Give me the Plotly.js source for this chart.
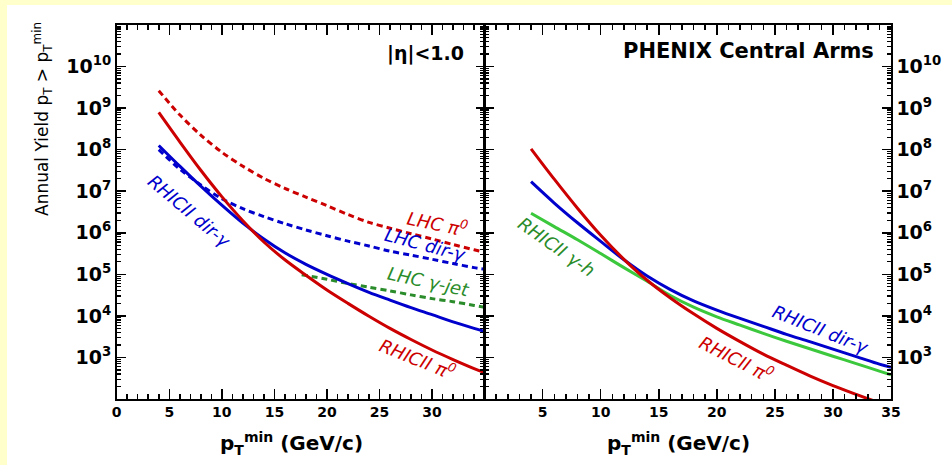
<!DOCTYPE html>
<html><head><meta charset="utf-8">
<script src="https://cdn.plot.ly/plotly-3.0.1.min.js"></script>
<style>html,body{margin:0;padding:0;background:#fff;overflow:hidden}</style>
</head><body><div id="chart" style="width:952px;height:465px"></div>
<script>
// ---- Left panel: |eta|<1.0 ----
const ptL = [4, 6, 8, 10, 12, 14, 16, 18, 20, 22, 24, 26, 28, 30, 32, 34, 35];
const yLhcPi0    = [2.63e9, 6.9e8, 2.24e8, 8.7e7, 4.0e7, 2.04e7, 1.17e7, 7.2e6, 4.5e6, 2.75e6, 1.78e6, 1.29e6, 9.5e5, 7.1e5, 5.2e5, 3.9e5, 3.4e5];
const yLhcDirG   = [1.0e8, 3.4e7, 1.41e7, 6.6e6, 3.8e6, 2.45e6, 1.66e6, 1.17e6, 8.5e5, 6.3e5, 4.8e5, 3.6e5, 2.9e5, 2.3e5, 1.82e5, 1.45e5, 1.32e5];
const yRhicDirGL = [1.26e8, 4.0e7, 1.32e7, 4.6e6, 1.7e6, 7.1e5, 3.3e5, 1.74e5, 1.0e5, 6.0e4, 3.7e4, 2.4e4, 1.58e4, 1.07e4, 7.2e3, 5.0e3, 4.2e3];
const yRhicPi0L  = [7.9e8, 1.55e8, 3.2e7, 7.4e6, 1.95e6, 6.0e5, 2.24e5, 9.5e4, 4.2e4, 2.0e4, 9.8e3, 5.0e3, 2.7e3, 1.51e3, 8.9e2, 5.4e2, 4.3e2];
const ptLhcGJet = [17.6, 20, 22, 24, 26, 28, 30, 32, 34, 35];
const yLhcGJet  = [9.8e4, 7.6e4, 6.0e4, 4.9e4, 4.0e4, 3.2e4, 2.6e4, 2.2e4, 1.78e4, 1.62e4];
// ---- Right panel: PHENIX Central Arms ----
const ptR = [4, 6, 8, 10, 12, 14, 16, 18, 20, 22, 24, 26, 28, 30, 32, 34, 35];
const yRhicPi0R  = [1.05e8, 1.95e7, 3.9e6, 8.7e5, 2.3e5, 7.2e4, 2.7e4, 1.12e4, 5.0e3, 2.4e3, 1.2e3, 6.5e2, 3.6e2, 2.1e2, 1.29e2, 81, 65];
const yRhicDirGR = [1.7e7, 5.2e6, 1.74e6, 6.2e5, 2.24e5, 9.1e4, 4.3e4, 2.3e4, 1.38e4, 8.7e3, 5.6e3, 3.6e3, 2.4e3, 1.58e3, 1.05e3, 6.9e2, 5.8e2];
const yRhicGhR   = [2.95e6, 1.41e6, 6.8e5, 3.16e5, 1.45e5, 6.8e4, 3.1e4, 1.62e4, 9.5e3, 6.0e3, 3.8e3, 2.45e3, 1.62e3, 1.07e3, 7.1e2, 4.7e2, 3.8e2];
// ---- Tick labels ----
const yTickVals = [1e3, 1e4, 1e5, 1e6, 1e7, 1e8, 1e9, 1e10];
const yTickText = ['10<sup>3</sup>', '10<sup>4</sup>', '10<sup>5</sup>', '10<sup>6</sup>', '10<sup>7</sup>', '10<sup>8</sup>', '10<sup>9</sup>', '10<sup>10</sup>'];
const xTickValsL = [0, 5, 10, 15, 20, 25, 30];
const xTickValsR = [5, 10, 15, 20, 25, 30, 35];

const RED = '#CC0000', BLUE = '#0000CC', DGREEN = '#2A8C2A', LGREEN = '#3CC83C';
const W = 952, H = 465;
const px = v => v / W, py = v => 1 - v / H;

// minor tick positions (log decades 10^2..10^11, linear every 1 GeV/c)
const yMinor = [];
for (let d = 2; d <= 10; d++) for (let m = 2; m <= 9; m++) yMinor.push(m * Math.pow(10, d));
const xMinor = [];
for (let i = 0; i <= 35; i++) if (i % 5 !== 0) xMinor.push(i);

function line(x, y, color, dash, xa, ya) {
  return {x: x, y: y, xaxis: xa, yaxis: ya, type: 'scatter', mode: 'lines',
    line: {color: color, width: 3, dash: dash || 'solid', shape: 'spline', smoothing: 0.9},
    hoverinfo: 'skip', showlegend: false};
}
const DASH = '6px,4px';
const traces = [
  line(ptL, yLhcPi0, RED, DASH, 'x', 'y'),
  line(ptL, yLhcDirG, BLUE, DASH, 'x', 'y'),
  line(ptLhcGJet, yLhcGJet, DGREEN, DASH, 'x', 'y'),
  line(ptL, yRhicDirGL, BLUE, null, 'x', 'y'),
  line(ptL, yRhicPi0L, RED, null, 'x', 'y'),
  line(ptR, yRhicGhR, LGREEN, null, 'x2', 'y2'),
  line(ptR, yRhicDirGR, BLUE, null, 'x2', 'y2'),
  line(ptR, yRhicPi0R, RED, null, 'x2', 'y2'),
  {x: [null], y: [null], xaxis: 'x3', yaxis: 'y3', type: 'scatter', mode: 'lines', showlegend: false, hoverinfo: 'skip'},
  {x: [null], y: [null], xaxis: 'x4', yaxis: 'y4', type: 'scatter', mode: 'lines', showlegend: false, hoverinfo: 'skip'}
];

const tickFontX = {family: 'DejaVu Sans', size: 14, weight: 'bold', color: '#000'};
const tickFontY = {family: 'DejaVu Sans', size: 19, weight: 'bold', color: '#000'};
const YDOM = [py(399), py(25)];
function xAxis(dom, tv, anchor) {
  return {domain: dom, anchor: anchor, range: [0, 35], showline: true, linecolor: '#000', linewidth: 1.6,
    mirror: 'allticks', ticks: 'inside', ticklen: 10, tickwidth: 1.5, tickcolor: '#000',
    tickmode: 'array', tickvals: tv, showgrid: false, zeroline: false, tickfont: tickFontX, fixedrange: true};
}
function yAxis(anchor, side) {
  return {domain: YDOM, anchor: anchor, side: side, type: 'log', range: [2, 11],
    showline: true, linecolor: '#000', linewidth: 1.6, mirror: 'allticks', ticks: 'inside', ticklen: 9,
    tickwidth: 1.5, tickcolor: '#000', tickmode: 'array', tickvals: yTickVals, ticktext: yTickText,
    showgrid: false, zeroline: false, tickfont: tickFontY, fixedrange: true};
}
function xMinorAxis(over, anchor, dom) {
  return {overlaying: over, anchor: anchor, domain: dom, range: [0, 35], showline: false, mirror: 'allticks',
    ticks: 'inside', ticklen: 5, tickwidth: 1.5, tickcolor: '#000', tickmode: 'array', tickvals: xMinor,
    showticklabels: false, showgrid: false, zeroline: false, fixedrange: true};
}
function yMinorAxis(over, anchor, side) {
  return {overlaying: over, anchor: anchor, side: side, domain: YDOM, type: 'log', range: [2, 11], showline: false,
    mirror: 'allticks', ticks: 'inside', ticklen: 4.5, tickwidth: 1.2, tickcolor: '#000', tickmode: 'array',
    tickvals: yMinor, showticklabels: false, showgrid: false, zeroline: false, fixedrange: true};
}

function lab(text, x, y, color, angle, size) {
  return {text: text, xref: 'paper', yref: 'paper', x: px(x), y: py(y), showarrow: false,
    xanchor: 'center', yanchor: 'middle', textangle: angle,
    font: {family: 'DejaVu Sans', size: size || 18, style: 'italic', color: color}};
}

const annotations = [
  {text: 'Annual Yield p<sub>T</sub> &gt; p<sub>T</sub><sup>min</sup>', xref: 'paper', yref: 'paper',
   x: px(43), y: py(119), showarrow: false, xanchor: 'center', yanchor: 'middle', textangle: -90,
   font: {family: 'DejaVu Sans', size: 17, color: '#000'}},
  {text: 'p<sub>T</sub><sup>min</sup> (GeV/c)', xref: 'paper', yref: 'paper', x: px(291), y: py(443),
   showarrow: false, xanchor: 'center', yanchor: 'middle',
   font: {family: 'DejaVu Sans', size: 20, weight: 'bold', color: '#000'}},
  {text: 'p<sub>T</sub><sup>min</sup> (GeV/c)', xref: 'paper', yref: 'paper', x: px(678), y: py(443),
   showarrow: false, xanchor: 'center', yanchor: 'middle',
   font: {family: 'DejaVu Sans', size: 20, weight: 'bold', color: '#000'}},
  {text: '|η|<1.0', xref: 'paper', yref: 'paper', x: px(425), y: py(54), showarrow: false,
   xanchor: 'center', yanchor: 'middle', font: {family: 'DejaVu Sans', size: 19, weight: 'bold', color: '#000'}},
  {text: 'PHENIX Central Arms', xref: 'paper', yref: 'paper', x: px(748), y: py(51), showarrow: false,
   xanchor: 'center', yanchor: 'middle', font: {family: 'DejaVu Sans', size: 21, weight: 'bold', color: '#000'}},
  lab('LHC π<sup>0</sup>', 437, 223, RED, 12),
  lab('LHC dir-γ', 425, 244, BLUE, 15),
  lab('LHC γ-jet', 428, 281, DGREEN, 12),
  lab('RHICII π<sup>0</sup>', 417, 358, RED, 22),
  lab('RHICII dir-γ', 190, 211, BLUE, 40),
  lab('RHICII γ-h', 556, 247, DGREEN, 35),
  lab('RHICII dir-γ', 821, 329, BLUE, 22),
  lab('RHICII π<sup>0</sup>', 736, 358, RED, 27)
];

const layout = {
  width: W, height: H, margin: {l: 0, r: 0, t: 0, b: 0},
  paper_bgcolor: '#FFFFCC', plot_bgcolor: '#FFFFFF', showlegend: false,
  xaxis: xAxis([px(116.7), px(484.6)], xTickValsL, 'y'),
  xaxis2: xAxis([px(484.6), px(891)], xTickValsR, 'y2'),
  yaxis: yAxis('x', 'left'),
  yaxis2: yAxis('x2', 'right'),
  xaxis3: xMinorAxis('x', 'y3', [px(116.7), px(484.6)]),
  yaxis3: yMinorAxis('y', 'x3', 'left'),
  xaxis4: xMinorAxis('x2', 'y4', [px(484.6), px(891)]),
  yaxis4: yMinorAxis('y2', 'x4', 'right'),
  shapes: [{type: 'rect', xref: 'paper', yref: 'paper', x0: px(7), x1: 1, y0: 0, y1: py(5),
    fillcolor: '#FFFFFF', line: {width: 0}, layer: 'below'}],
  annotations: annotations
};

Plotly.newPlot('chart', traces, layout, {staticPlot: true, displayModeBar: false});
</script></body></html>
